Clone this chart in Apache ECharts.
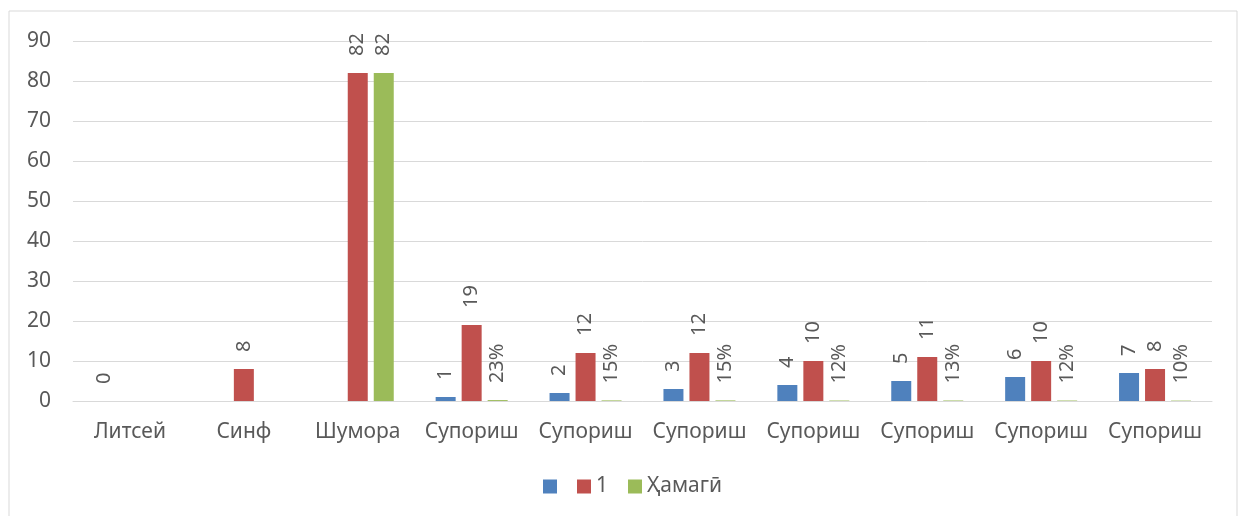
<!DOCTYPE html>
<html>
<head>
<meta charset="utf-8">
<script src="https://cdn.jsdelivr.net/npm/echarts@6/dist/echarts.min.js"></script>
<style>
  html, body { margin: 0; padding: 0; background: #fff; }
  #chart { width: 1243px; height: 516px; }
</style>
</head>
<body>
<div id="chart"></div>
<script>
// категорияҳо
var categories = ['Литсей', 'Синф', 'Шумора', 'Супориш', 'Супориш', 'Супориш', 'Супориш', 'Супориш', 'Супориш', 'Супориш'];
var seriesNames = [' ', '1', 'Ҳамагӣ'];
// null = no bar, no label
var blueValues = [0, null, null, 1, 2, 3, 4, 5, 6, 7];
var redValues = [null, 8, 82, 19, 12, 12, 10, 11, 10, 8];
var greenValues = [null, null, 82, 0.23, 0.15, 0.15, 0.12, 0.13, 0.12, 0.10];
var yTicks = { min: 0, max: 90, interval: 10 };

var colors = ['#4f81bd', '#c0504d', '#9bbb59'];
var textColor = '#595959';
var font = '"Noto Sans", "DejaVu Sans", sans-serif';

var chart = echarts.init(document.getElementById('chart'));

function labelOpt(isPercent) {
    return {
        show: true,
        position: 'top',
        rotate: 90,
        align: 'left',
        verticalAlign: 'middle',
        distance: 17,
        color: textColor,
        fontSize: 20,
        fontFamily: font,
        formatter: function (p) {
            if (p.value == null) return '';
            if (isPercent && p.value < 1) return Math.round(p.value * 100) + '%';
            return p.value;
        }
    };
}

var allValues = [blueValues, redValues, greenValues];
var series = allValues.map(function (vals, i) {
    return {
        name: seriesNames[i],
        type: 'bar',
        data: vals,
        barWidth: 20,
        barGap: '30%',
        itemStyle: { color: colors[i] },
        label: labelOpt(i === 2),
        emphasis: { disabled: true }
    };
});

var option = {
    animation: false,
    color: colors,
    graphic: [{
        type: 'rect',
        shape: { x: 9, y: 11, width: 1228, height: 520 },
        style: { fill: 'none', stroke: '#d9d9d9', lineWidth: 1 },
        silent: true
    }],
    grid: { left: 73, right: 31, top: 41, bottom: 115 },
    legend: {
        data: seriesNames,
        bottom: 14,
        left: 538,
        itemWidth: 14,
        itemHeight: 14,
        itemGap: 20,
        icon: 'rect',
        formatter: function (name) {
            return name.trim();
        },
        textStyle: { color: textColor, fontSize: 21, fontFamily: font }
    },
    xAxis: {
        type: 'category',
        data: categories,
        axisLine: { lineStyle: { color: '#d9d9d9', width: 1 } },
        axisTick: { show: false },
        axisLabel: { color: textColor, fontSize: 21, fontFamily: font, margin: 21, interval: 0 }
    },
    yAxis: {
        type: 'value',
        min: yTicks.min,
        max: yTicks.max,
        interval: yTicks.interval,
        axisLine: { show: false },
        axisTick: { show: false },
        splitLine: { lineStyle: { color: '#d9d9d9', width: 1 } },
        axisLabel: { color: textColor, fontSize: 21, fontFamily: font, margin: 22 }
    },
    series: series
};

chart.setOption(option);
</script>
</body>
</html>
